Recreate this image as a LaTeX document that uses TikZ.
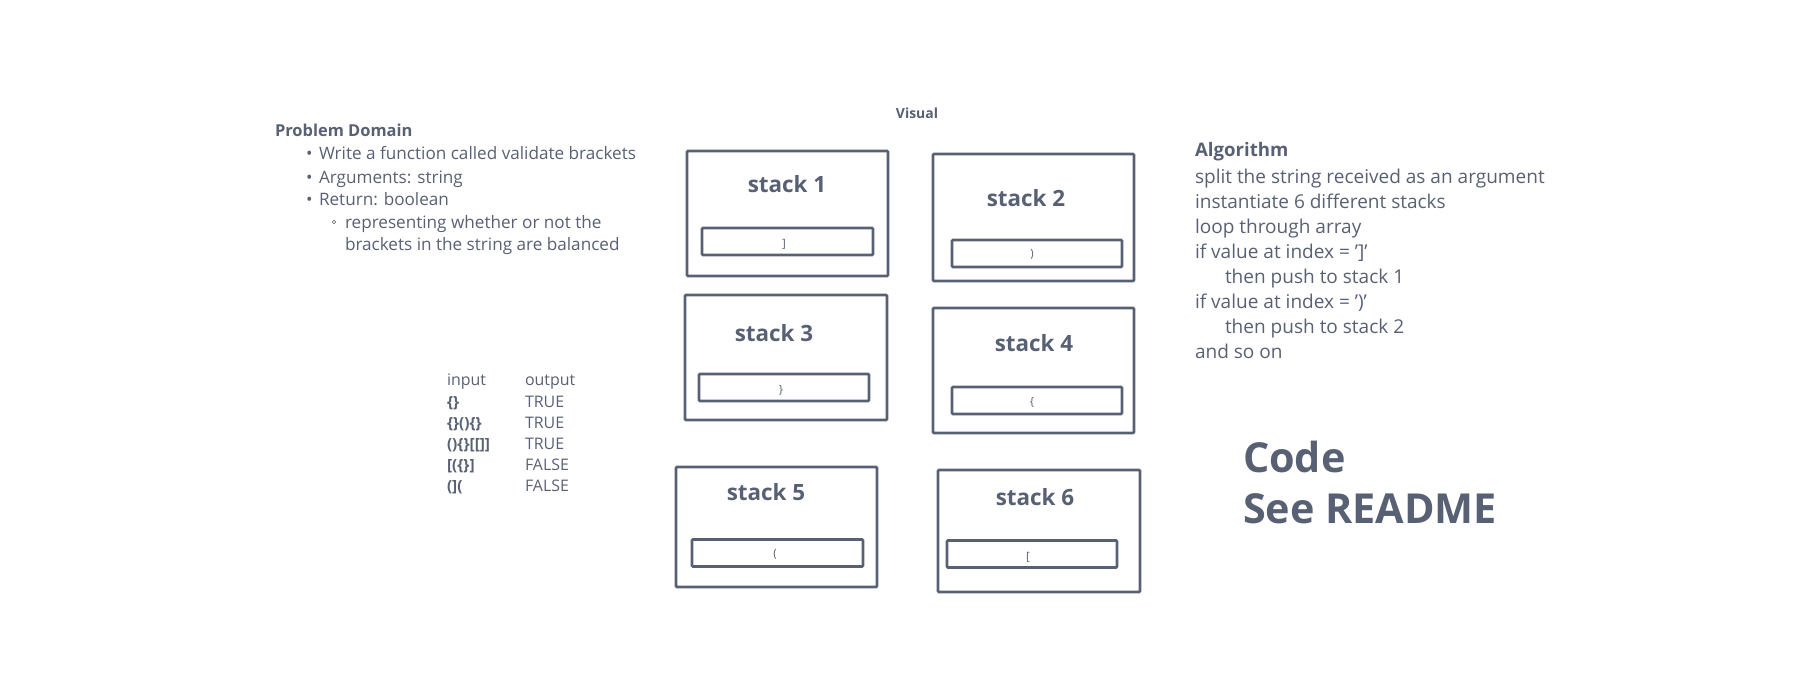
\documentclass[tikz,border=0pt]{standalone}
\usepackage{fontspec}
\setmainfont{Open Sans}
\definecolor{ink}{RGB}{88,96,115}
\begin{document}
\begin{tikzpicture}[x=1bp,y=-1bp,
  every node/.style={text=ink, inner sep=0pt, outer sep=0pt},
  outerbox/.style={draw=ink, line width=2.6bp, rounded corners=1bp, minimum width=#1},
  innerbox/.style={draw=ink, line width=2.6bp, rounded corners=1bp, minimum width=#1, minimum height=27bp},
  stacktitle/.style={font=\fontsize{22.5}{26}\selectfont\bfseries},
  slot/.style={font=\fontsize{11.5}{13}\selectfont},
  body/.style={anchor=base west, font=\fontsize{17.2}{20}\selectfont},
  head/.style={anchor=base west, font=\fontsize{16.5}{20}\selectfont\bfseries},
  tab/.style={anchor=base west, font=\fontsize{16}{18}\selectfont},
  tabb/.style={anchor=base west, font=\fontsize{15.5}{18}\selectfont\bfseries},
  alg/.style={anchor=base west, font=\fontsize{19.1}{22}\selectfont},
  big/.style={anchor=base west, font=\fontsize{41.5}{46}\selectfont\bfseries}
]
\useasboundingbox (0,0) rectangle (1819,696);

% Visual
\node[font=\fontsize{14}{16}\selectfont\bfseries] (visual) at (917,113) {Visual};

% Problem domain
\node[head] (pd) at (275,137) {Problem Domain};
\node[body] (b1) at (306,160) {•};
\node[body] (t1) at (319,160) {Write a function called validate brackets};
\node[body] (b2) at (306,183) {•};
\node[body] (t2) at (319,183) {Arguments: string};
\node[body] (b3) at (306,205) {•};
\node[body] (t3) at (319,205) {Return: boolean};
\node[draw=ink, circle, line width=0.6bp, minimum size=3.5bp] (sb) at (334,222) {};
\node[body] (t4) at (345,228) {representing whether or not the};
\node[body] (t5) at (345,250) {brackets in the string are balanced};

% Table
\node[tab] (hin) at (447,385) {input};
\node[tab] (hout) at (525,385) {output};
\node[tabb] (i1) at (447,407) {\{\}};
\node[tab] (o1) at (525,407) {TRUE};
\node[tabb] (i2) at (447,428) {\{\}()\{\}};
\node[tab] (o2) at (525,428) {TRUE};
\node[tabb] (i3) at (447,449) {()\{\}[[]]};
\node[tab] (o3) at (525,449) {TRUE};
\node[tabb] (i4) at (447,470) {[(\{\}]};
\node[tab] (o4) at (525,470) {FALSE};
\node[tabb] (i5) at (447,491) {(](};
\node[tab] (o5) at (525,491) {FALSE};

% Stacks
\node[outerbox=201bp, minimum height=125bp] (s1) at (787.5,213.5) {};
\node[innerbox=171bp] (s1i) at (787.5,241.5) {};
\node[stacktitle] (s1t) at (787,184) {stack 1};
\node[slot] (s1v) at (784,244) {]};

\node[outerbox=201bp, minimum height=127bp] (s2) at (1033.5,217.5) {};
\node[innerbox=170bp] (s2i) at (1037,253.5) {};
\node[stacktitle] (s2t) at (1026,198) {stack 2};
\node[slot] (s2v) at (1032,254) {)};

\node[outerbox=202bp, minimum height=125bp] (s3) at (786,357.5) {};
\node[innerbox=170bp] (s3i) at (784,387.5) {};
\node[stacktitle] (s3t) at (774,333) {stack 3};
\node[slot] (s3v) at (781,390) {\}};

\node[outerbox=201bp, minimum height=125bp] (s4) at (1033.5,370.5) {};
\node[innerbox=170bp] (s4i) at (1037,400.5) {};
\node[stacktitle] (s4t) at (1034,343) {stack 4};
\node[slot] (s4v) at (1032,402) {\{};

\node[outerbox=201bp, minimum height=120bp] (s5) at (776.5,527) {};
\node[innerbox=171bp] (s5i) at (777.5,553) {};
\node[stacktitle] (s5t) at (766,492) {stack 5};
\node[slot] (s5v) at (775,554) {(};

\node[outerbox=202bp, minimum height=122bp] (s6) at (1039,531) {};
\node[innerbox=170bp] (s6i) at (1032,554) {};
\node[stacktitle] (s6t) at (1035,497) {stack 6};
\node[slot] (s6v) at (1028,557) {[};

% Algorithm
\node[alg, font=\fontsize{18.7}{22}\selectfont\bfseries] (ah) at (1195,157) {Algorithm};
\node[alg] (a1) at (1195,183) {split the string received as an argument};
\node[alg] (a2) at (1195,208) {instantiate 6 different stacks};
\node[alg] (a3) at (1195,233) {loop through array};
\node[alg] (a4) at (1195,258) {if value at index = ']'};
\node[alg] (a5) at (1225,283) {then push to stack 1};
\node[alg] (a6) at (1195,308) {if value at index = ')'};
\node[alg] (a7) at (1225,333) {then push to stack 2};
\node[alg] (a8) at (1195,358) {and so on};

% Code
\node[big] (c1) at (1243,472) {Code};
\node[big] (c2) at (1243,523) {See README};
\end{tikzpicture}
\end{document}
